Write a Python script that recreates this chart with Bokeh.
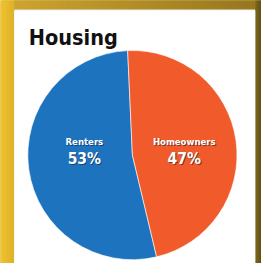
import math
from bokeh.plotting import figure
from bokeh.models import ColumnDataSource, Range1d
from bokeh.core.properties import value
from bokeh.embed import file_html
from bokeh.resources import INLINE

# ---- data ----
title_text = "Housing"
categories = ["Renters", "Homeowners"]
shares = [53, 47]
pct_labels = ["53%", "47%"]
colors = ["#1E73BE", "#F15A2B"]

# reference canvas is 277x279; figure is scaled to fit 261x263
W, H = 277, 279
p = figure(width=261, height=263, x_range=Range1d(0, W), y_range=Range1d(0, H),
           output_backend="svg", toolbar_location=None, min_border=0)
p.axis.visible = False
p.grid.visible = False
p.outline_line_color = None
p.background_fill_color = "#D8B030"
p.border_fill_color = "#D8B030"

def Y(yref):
    return H - yref

def lerp(c1, c2, t):
    return "#%02x%02x%02x" % tuple(int(round(a + (b - a) * t)) for a, b in zip(c1, c2))

# frame: left strip
L, R, T = 15, 270, 10
lx = list(range(0, L))
p.quad(left=lx, right=[v + 1 for v in lx], bottom=0, top=H,
       color=[lerp((238, 196, 52), (222, 178, 42), i / (L - 1)) for i in range(L)])
# right strip
rx = list(range(R, W))
p.quad(left=rx, right=[v + 1 for v in rx], bottom=0, top=H,
       color=[lerp((128, 104, 28), (100, 82, 20), i / (len(rx) - 1)) for i in range(len(rx))])
# top band
tx = list(range(L, R))
p.quad(left=tx, right=[v + 1 for v in tx], bottom=Y(T), top=H,
       color=[lerp((205, 164, 48), (150, 120, 32), i / (len(tx) - 1)) for i in range(len(tx))])
# slight shadow below top band
p.quad(left=[L], right=[R], bottom=[Y(T) - 1], top=[Y(T)], color="#E6E0D0")
# white panel
p.quad(left=[L], right=[R], bottom=[0], top=[Y(T) - 1], color="white")

# ---- pie ----
cx, cy, r = 140, Y(164), 111
offset = 92.6  # degrees: boundary just left of top
fr = [s / sum(shares) for s in shares]
ho_span = fr[1] * 360
# Renters: anticlockwise from offset; Homeowners: clockwise from offset
starts = [math.radians(offset), math.radians(offset - ho_span)]
ends = [math.radians(offset + fr[0] * 360), math.radians(offset)]
src = ColumnDataSource(dict(start=starts, end=ends, color=colors, cat=categories))
p.wedge(x=cx, y=cy, radius=r, start_angle="start", end_angle="end",
        fill_color="color", line_color="white", line_width=0.6, source=src,
        direction="anticlock")

# ---- labels ----
lab_x = [89, 195]
lsrc = ColumnDataSource(dict(x=lab_x, y=[Y(150)] * 2, t=categories,
                             py=[Y(168)] * 2, pt=pct_labels))
FONT = value("DejaVu Sans Condensed")
for dx, dy, col, alpha in [(1, -1, "#0a1a30", 0.55), (0, 0, "white", 1.0)]:
    p.text(x="x", y="y", text="t", source=lsrc, x_offset=dx, y_offset=-dy,
           text_align="center", text_baseline="alphabetic",
           text_font=FONT, text_font_style="bold",
           text_font_size="9.5px", text_color=col, text_alpha=alpha)
    p.text(x="x", y="py", text="pt", source=lsrc, x_offset=dx, y_offset=-dy,
           text_align="center", text_baseline="alphabetic",
           text_font=FONT, text_font_style="bold",
           text_font_size="15.5px", text_color=col, text_alpha=alpha)

# ---- title ----
p.text(x=[30], y=[Y(39.5)], text=[title_text], text_align="left",
       text_baseline="alphabetic", text_font=FONT,
       text_font_style="bold", text_font_size="21.5px", text_color="#111111")

open("out.html", "w").write(file_html(p, INLINE))
